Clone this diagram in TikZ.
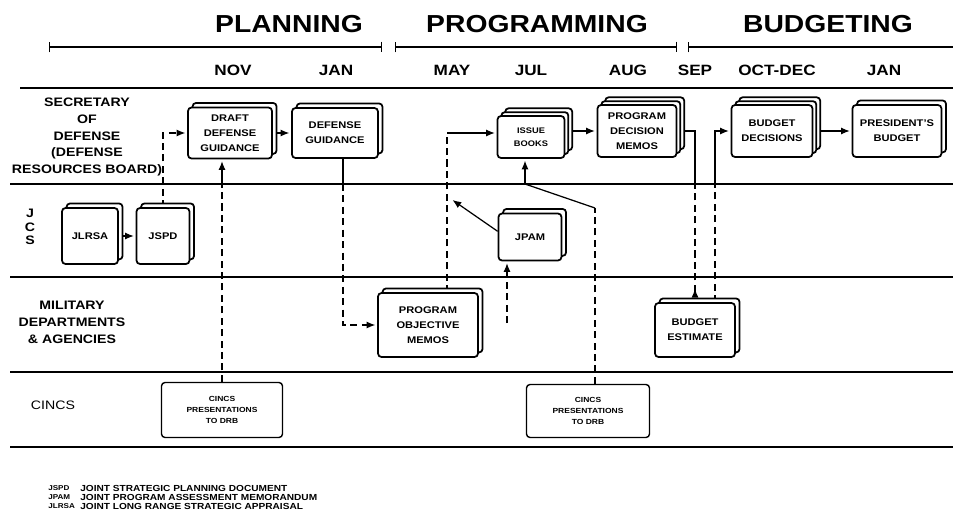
\documentclass[tikz,border=0pt]{standalone}
\usepackage{fontspec}
\setmainfont{Liberation Sans}[FakeStretch=1.15]
\usetikzlibrary{arrows.meta,positioning,shadows,backgrounds}

\begin{document}
\begin{tikzpicture}[x=0.02cm,y=-0.02cm,on grid,font=\bfseries]
  \tikzstyle{plate}=[draw,fill=white,line width=1pt,rounded corners=2pt,inner sep=1pt,
    align=center,font=\fontsize{5.5}{8.5}\selectfont\bfseries]
  \tikzstyle{box}=[plate,copy shadow={shadow xshift=2.6pt,shadow yshift=2.6pt,draw,fill=white}]
  \tikzstyle{stack}=[plate,
    copy shadow={shadow xshift=4.4pt,shadow yshift=4.4pt,draw,fill=white},
    copy shadow={shadow xshift=2.2pt,shadow yshift=2.2pt,draw,fill=white}]
  \tikzstyle{flat}=[plate,line width=0.8pt,font=\fontsize{4.2}{6.5}\selectfont\bfseries]
  \tikzstyle{lane}=[line width=1.2pt]
  \tikzstyle{phase}=[line width=0.8pt,arrows={Bar[width=6pt]-Bar[width=6pt]}]
  \tikzstyle{wire}=[line width=0.7pt]
  \tikzstyle{link}=[wire,arrows={-Latex[length=5pt,width=4pt]},shorten >=1pt]
  \tikzstyle{feed}=[wire,dash pattern=on 4pt off 2.5pt]
  \tikzstyle{title}=[font=\fontsize{14}{16}\selectfont\bfseries]
  \tikzstyle{month}=[font=\fontsize{8.5}{10}\selectfont\bfseries]
  \tikzstyle{who}=[align=center,font=\fontsize{7}{9.6}\selectfont\bfseries]

  \useasboundingbox (0,0) rectangle (953,524);

  % phases and months
  \node[title] (plan) at (289,24) {PLANNING};
  \node[title] (prog) at (537,24) {PROGRAMMING};
  \node[title] (budg) at (828,24) {BUDGETING};
  \draw[phase] (49,47) -- (382,47);
  \draw[phase] (395,47) -- (677,47);
  \draw[line width=0.8pt,arrows={Bar[width=6pt]-}] (688,47) -- (953,47);
  \foreach \x/\m in {233/NOV,336/JAN,452/MAY,531/JUL,628/AUG,695/SEP,777/OCT-DEC,884/JAN}
    \node[month] (m\x) at (\x,70) {\m};

  % lanes
  \draw[lane] (20,88) -- (953,88);
  \foreach \y in {184,277,372,447}
    \draw[lane] (10,\y) -- (953,\y);
  \node[who] (secdef) at (87,137) {SECRETARY\\OF\\DEFENSE\\(DEFENSE\\RESOURCES BOARD)};
  \node[who,font=\fontsize{7}{7.6}\selectfont\bfseries] (jcs) at (30,227) {J\\C\\S};
  \node[who] (mil) at (72,322) {MILITARY\\DEPARTMENTS\\\& AGENCIES};
  \node[who,font=\fontsize{7}{9}\selectfont] (cincs) at (53,405) {CINCS};

  % documents
  \node[box,minimum width=1.68cm,minimum height=1.02cm] (ddg) at (230,133) {DRAFT\\DEFENSE\\GUIDANCE};
  \node[box,minimum width=1.72cm,minimum height=1cm] (dg) [right=2.1cm of ddg] {DEFENSE\\GUIDANCE};
  \node[stack,minimum width=1.34cm,minimum height=0.84cm,
    font=\fontsize{4.6}{7.5}\selectfont\bfseries] (ib) at (531,137) {ISSUE\\BOOKS};
  \node[stack,minimum width=1.58cm,minimum height=1.04cm] (pdm) at (637,131) {PROGRAM\\DECISION\\MEMOS};
  \node[stack,minimum width=1.62cm,minimum height=1.04cm] (bd) at (772,131) {BUDGET\\DECISIONS};
  \node[box,minimum width=1.78cm,minimum height=1.04cm] (pb) [right=2.5cm of bd] {PRESIDENT'S\\BUDGET};
  \node[box,minimum width=1.12cm,minimum height=1.12cm] (jlrsa) at (90,236) {JLRSA};
  \node[box,minimum width=1.06cm,minimum height=1.12cm] (jspd) [right=1.46cm of jlrsa] {JSPD};
  \node[box,minimum width=1.26cm,minimum height=0.94cm] (jpam) at (530,237) {JPAM};
  \node[box,minimum width=2cm,minimum height=1.28cm] (pom) at (428,325) {PROGRAM\\OBJECTIVE\\MEMOS};
  \node[box,minimum width=1.6cm,minimum height=1.08cm] (be) at (695,330) {BUDGET\\ESTIMATE};
  \node[flat,minimum width=2.42cm,minimum height=1.1cm] (cincs_a) at (222,410) {CINCS\\PRESENTATIONS\\TO DRB};
  \node[flat,minimum width=2.46cm,minimum height=1.06cm] (cincs_b) at (588,411) {CINCS\\PRESENTATIONS\\TO DRB};

  \begin{scope}[on background layer]
    \draw[link] (jlrsa.east) -- (jspd.west);
    \draw[link,feed] (jspd.north) |- (ddg.west);
    \draw[link] (ddg.east) -- (dg.west);
    \coordinate (ddg_in) at (222,184);
    \draw[feed] (cincs_a.north) -- (ddg_in);
    \draw[link] (ddg_in) -- (ddg_in |- ddg.south);
    \coordinate (dg_out) at (343,184);
    \draw[wire] (dg_out |- dg.south) -- (dg_out);
    \draw[link,feed] (dg_out) |- (pom.west);
    \coordinate (ib_in) at (447,133);
    \draw[feed] (ib_in |- pom.north) -- (ib_in);
    \draw[link] (ib_in) -- (ib.west |- ib_in);
    \coordinate (jpam_tip) at (451,199);
    \draw[link] (jpam.170) -- (jpam_tip);
    \coordinate (ib_low) at (525,184);
    \coordinate (ib_bend) at (595,208);
    \draw[feed] (ib_bend |- cincs_b.north) -- (ib_bend);
    \draw[wire] (ib_bend) -- (ib_low);
    \draw[link] (ib_low) -- (ib_low |- ib.south);
    \coordinate (jpam_in) at (507,323);
    \draw[link,feed] (jpam_in) -- (jpam_in |- jpam.south);
    \draw[link] (ib.east |- pdm.west) -- (pdm.west);
    \coordinate (be_a) at (695,184);
    \draw[wire] (pdm.east) -| (be_a);
    \draw[feed,arrows={Latex[length=5pt,width=4pt,reversed]-},shorten <=2.6pt]
      (be.north -| be_a) -- (be_a);
    \coordinate (bd_in) at (715,184);
    \draw[feed] (be.north -| bd_in) -- (bd_in);
    \draw[link] (bd_in) |- (bd.west);
    \draw[link] (bd.east) -- (pb.west);
  \end{scope}

  % key
  \node[anchor=north west,align=left,inner sep=0pt,font=\fontsize{4}{5.1}\selectfont\bfseries]
    (keys) at (48,485) {JSPD\\JPAM\\JLRSA};
  \node[anchor=north west,align=left,inner sep=0pt,font=\fontsize{5}{5.1}\selectfont\bfseries]
    (meaning) at (80,485) {JOINT STRATEGIC PLANNING DOCUMENT\\JOINT PROGRAM ASSESSMENT MEMORANDUM\\JOINT LONG RANGE STRATEGIC APPRAISAL};
\end{tikzpicture}
\end{document}
